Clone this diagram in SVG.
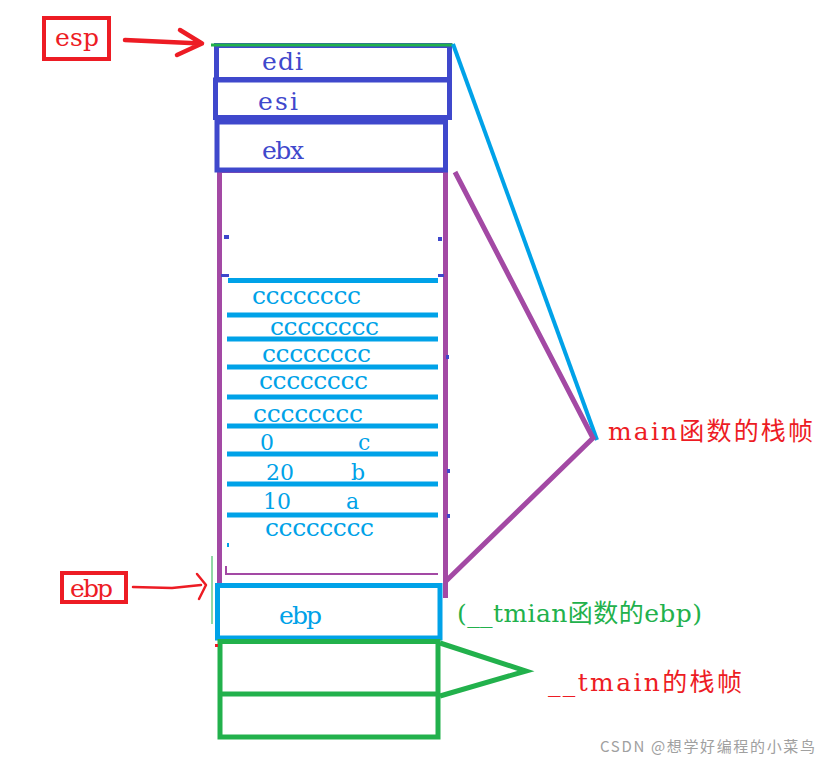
<svg xmlns="http://www.w3.org/2000/svg" width="831" height="763" viewBox="0 0 831 763">
<style>
.t{font-family:"DejaVu Serif","Liberation Serif","Noto Sans CJK SC",serif;font-size:25px}
.s{font-size:22px}
.cj{font-family:"DejaVu Serif","Noto Sans CJK SC",serif;font-size:25px}
.red{fill:#ed1c24}.blue{fill:#3f48cc}.cyan{fill:#00a2e8}.green{fill:#22b14c}
.rb{fill:none;stroke:#ed1c24;stroke-width:4}
.bb{fill:none;stroke:#3f48cc;stroke-width:5}
.cl{stroke:#00a2e8;stroke-width:5;fill:none}
.pl{stroke:#a349a4;stroke-width:5;fill:none}
.gl{stroke:#22b14c;stroke-width:5;fill:none}
.ar{stroke:#ed1c24;fill:none;stroke-linecap:round;stroke-linejoin:round}
</style>
<rect width="831" height="763" fill="#fff"/>

<g id="esp-label">
<rect class="rb" x="44" y="18" width="65" height="41"/>
<text class="t red" x="55" y="46" font-size="27" textLength="44">esp</text>
</g>

<g id="ebp-label">
<rect class="rb" x="62" y="573" width="64" height="29"/>
<text class="t red" x="70" y="597" textLength="43">ebp</text>
</g>

<g id="main-frame">
<path class="pl" d="M219.5,170 V585 M445.5,170 V598"/>
<line x1="219" y1="172" x2="446" y2="172" stroke="#a349a4" stroke-width="2"/>
<path d="M226,566 V574 H438" stroke="#a349a4" stroke-width="2" fill="none"/>
<path class="cl" d="M228,280.5 H438 M227,315 H438 M227,339 H438 M227,367 H438 M227,397 H438 M227,426 H438 M227,454 H438 M227,484 H438 M227,515 H438"/>
<g fill="#3f48cc">
<rect x="224" y="235" width="5" height="4"/>
<rect x="438" y="237" width="4" height="4"/>
<rect x="221" y="274" width="8" height="3"/>
<rect x="438" y="274" width="6" height="3"/>
<rect x="446" y="355" width="3" height="4"/>
<rect x="447" y="469" width="3" height="4"/>
<rect x="447" y="514" width="3" height="4"/>
</g>
<rect x="227" y="543" width="2" height="4" fill="#00a2e8"/>
<text class="t cyan" x="252" y="304" textLength="109">cccccccc</text>
<text class="t cyan" x="270" y="335" textLength="109">cccccccc</text>
<text class="t cyan" x="262" y="362" textLength="109">cccccccc</text>
<text class="t cyan" x="259" y="389" textLength="109">cccccccc</text>
<text class="t cyan" x="253" y="422" textLength="110">cccccccc</text>
<text class="t s cyan" x="260" y="450">0</text>
<text class="t s cyan" x="358" y="450">c</text>
<text class="t s cyan" x="266" y="480">20</text>
<text class="t s cyan" x="351" y="480">b</text>
<text class="t s cyan" x="263" y="509">10</text>
<text class="t s cyan" x="346" y="509">a</text>
<text class="t cyan" x="265" y="536" font-size="23" textLength="109">cccccccc</text>
</g>

<g id="edi">
<rect class="bb" x="216.5" y="45.5" width="233" height="34"/>
<text class="t blue" x="262" y="70" textLength="41">edi</text>
</g>
<g id="esi">
<rect class="bb" x="215.5" y="80" width="234" height="37.5"/>
<text class="t blue" x="258" y="110" textLength="40">esi</text>
</g>
<g id="ebx">
<rect class="bb" x="217" y="122" width="228.5" height="48"/>
<text class="t blue" x="262" y="159" textLength="42">ebx</text>
</g>

<g id="ebp-slot">
<rect x="217.5" y="585.5" width="222.5" height="52.5" fill="none" stroke="#00a2e8" stroke-width="5"/>
<text class="t cyan" x="279" y="624" textLength="43">ebp</text>
</g>

<g id="tmain-frame">
<rect class="gl" x="220" y="641.5" width="218" height="95.5"/>
<line class="gl" x1="220" y1="694" x2="438" y2="694"/>
<rect x="215" y="644" width="3" height="3" fill="#ed1c24"/>
</g>

<g id="connectors">
<line x1="211" y1="45" x2="453" y2="45" stroke="#22b14c" stroke-width="3"/>
<line x1="212" y1="556" x2="212" y2="624" stroke="#22b14c" stroke-width="1"/>
<path class="ar" stroke-width="4.5" d="M125,40 L201,43.5 M180,30 L202,43.5 L177,55"/>
<path class="ar" stroke-width="2.5" d="M133,587 L172,588 L201,585 M197,574 L206,585 L199,599"/>
<line x1="453" y1="44" x2="597" y2="440" stroke="#00a2e8" stroke-width="4"/>
<path class="pl" d="M455,172 L593,438 L445,582"/>
<path class="gl" d="M440,643 L526,671 L440,696"/>
</g>

<g id="labels">
<text class="cj red" x="608" y="440" textLength="205">main函数的栈帧</text>
<text class="cj green" x="457" y="622" textLength="245">(__tmian函数的ebp)</text>
<text class="cj red" x="548" y="691" font-size="28" textLength="194">__tmain的栈帧</text>
<text x="600" y="752" font-family="'Noto Sans CJK SC','Noto Sans',sans-serif" font-size="15" fill="#a0a0a0" textLength="215">CSDN @想学好编程的小菜鸟</text>
</g>
</svg>
